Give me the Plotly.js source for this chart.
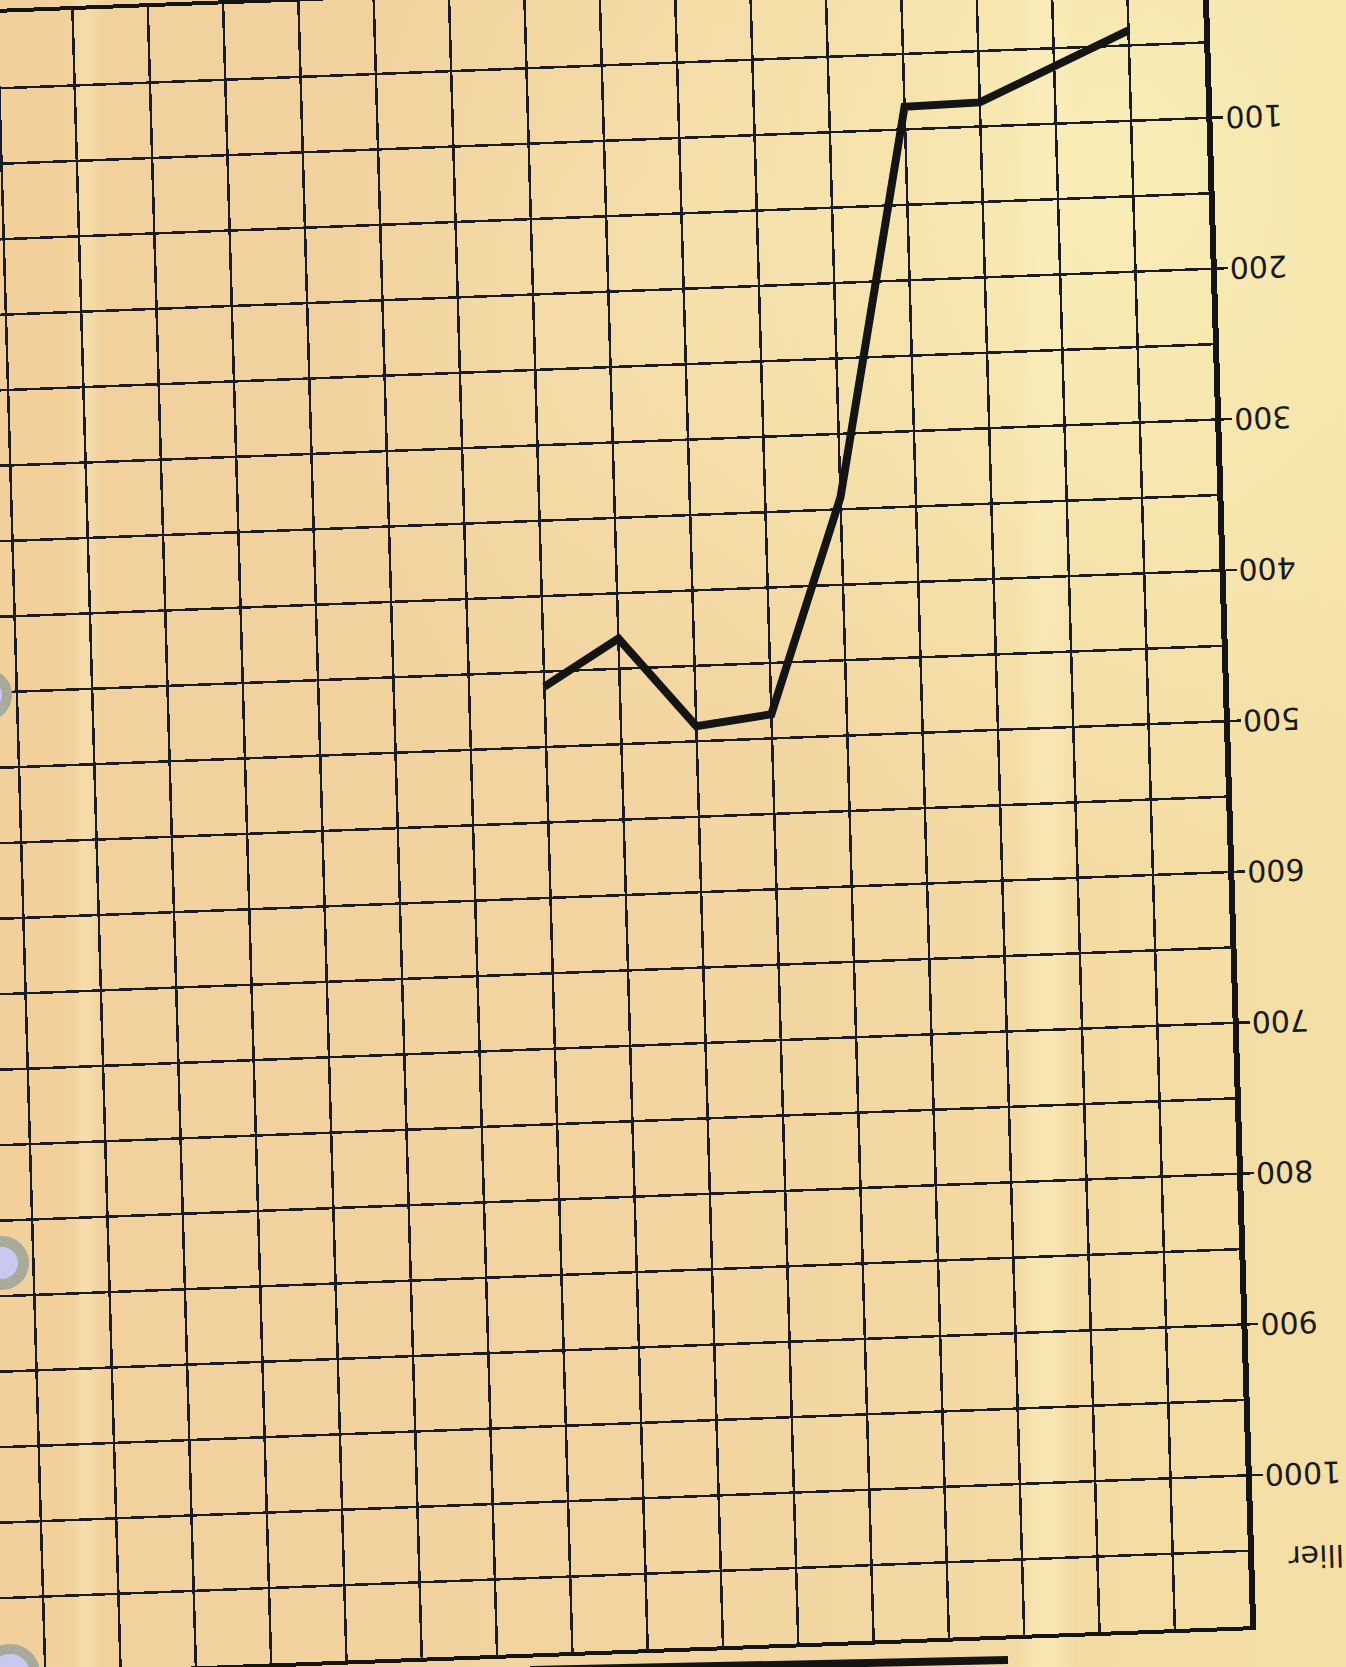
<!DOCTYPE html>
<html>
<head>
<meta charset="utf-8">
<script src="https://cdn.plot.ly/plotly-3.0.1.min.js"></script>
<style>
html, body { margin:0; padding:0; width:1346px; height:1667px; overflow:hidden; }
#page {
  position:relative; width:1346px; height:1667px; overflow:hidden;
  background:
    linear-gradient(90deg, rgba(250,238,190,0) 1015px, rgba(250,238,190,0.55) 1035px, rgba(250,238,190,0.55) 1055px, rgba(250,238,190,0) 1075px),
    linear-gradient(90deg, rgba(250,238,190,0) 70px, rgba(250,238,190,0.45) 85px, rgba(250,238,190,0) 105px),
    radial-gradient(ellipse 520px 700px at 1120px 180px, rgba(249,238,184,0.95) 0%, rgba(248,236,178,0) 100%),
    radial-gradient(ellipse 300px 500px at 640px 300px, rgba(248,232,180,0.5) 0%, rgba(248,232,180,0) 100%),
    linear-gradient(90deg, #f1d09c 0%, #f2d4a0 45%, #f3d9a3 75%, #f4e0a6 100%);
}
#chart {
  position:absolute; left:0; top:0; width:1700px; height:1900px;
  transform-origin:0 0;
  transform:matrix(-0.99890, 0.037958, -0.028967, -0.99887, 1473.45, 1739.75);
}
.hole { position:absolute; border-radius:50%; box-sizing:border-box; background:#c8c8f0; border-style:solid; border-color:#a8ab99; }
#bar { position:absolute; left:530px; top:1656px; width:478px; height:8px; background:#141414; transform-origin:100% 50%; transform:rotate(-1.2deg); }
</style>
</head>
<body>
<div id="page">
  <div id="chart"></div>
  <div class="hole" style="left:-40px; top:669px; width:52px; height:52px; border-width:10px;"></div>
  <div class="hole" style="left:-25px; top:1236px; width:54px; height:54px; border-width:11px;"></div>
  <div class="hole" style="left:-20px; top:1644px; width:60px; height:60px; border-width:10px;"></div>
  <div id="bar"></div>
</div>
<script>
// Data read from the (scanned, upside-down) chart
const columns = [1, 3, 4, 5, 6, 7, 8, 9];
const values  = [40, 84, 85, 342, 484, 490, 430, 460];
const yTickVals = [100, 200, 300, 400, 500, 600, 700, 800, 900, 1000];
const yTickText = ['100', '200', '300', '400', '500', '600', '700', '800', '900', '1000'];
const axisLabel = 'llier';

const gridColor = '#1a1b27';

const trace = {
  x: columns,
  y: values,
  type: 'scatter',
  mode: 'lines',
  line: { color: '#141414', width: 8 },
  hoverinfo: 'none'
};

const layout = {
  width: 1700,
  height: 1900,
  margin: { l: 220, r: 122.8, t: 122, b: 117 },
  paper_bgcolor: 'rgba(0,0,0,0)',
  plot_bgcolor: 'rgba(0,0,0,0)',
  showlegend: false,
  font: { family: 'DejaVu Sans, sans-serif', color: '#1a1a1a' },
  xaxis: {
    range: [0, 18],
    tickmode: 'linear', tick0: 0, dtick: 1,
    showgrid: true, gridcolor: gridColor, gridwidth: 2.5,
    showticklabels: false, ticks: '',
    showline: true, mirror: true, linecolor: '#141414', linewidth: 4,
    zeroline: false, fixedrange: true
  },
  yaxis: {
    range: [0, 1100],
    tickmode: 'array', tickvals: yTickVals, ticktext: yTickText,
    ticks: 'outside', ticklen: 11, tickwidth: 2.5, tickcolor: '#1a1a1a',
    ticklabelstandoff: -4,
    tickfont: { family: 'DejaVu Sans, sans-serif', size: 30, color: '#1a1a1a' },
    showgrid: true, gridcolor: gridColor, gridwidth: 2.5,
    minor: { tickmode: 'linear', tick0: 0, dtick: 50, showgrid: true, gridcolor: gridColor, gridwidth: 2.5, ticks: '' },
    showline: true, linecolor: '#141414', linewidth: 6,
    zeroline: false, fixedrange: true
  },
  annotations: [{
    x: 0, y: 1055, xref: 'x', yref: 'y',
    text: axisLabel, showarrow: false,
    xanchor: 'right', yanchor: 'middle', xshift: -38,
    font: { family: 'DejaVu Sans, sans-serif', size: 30, color: '#1a1a1a' }
  }]
};

Plotly.newPlot('chart', [trace], layout, { displayModeBar: false, staticPlot: true });
</script>
</body>
</html>
